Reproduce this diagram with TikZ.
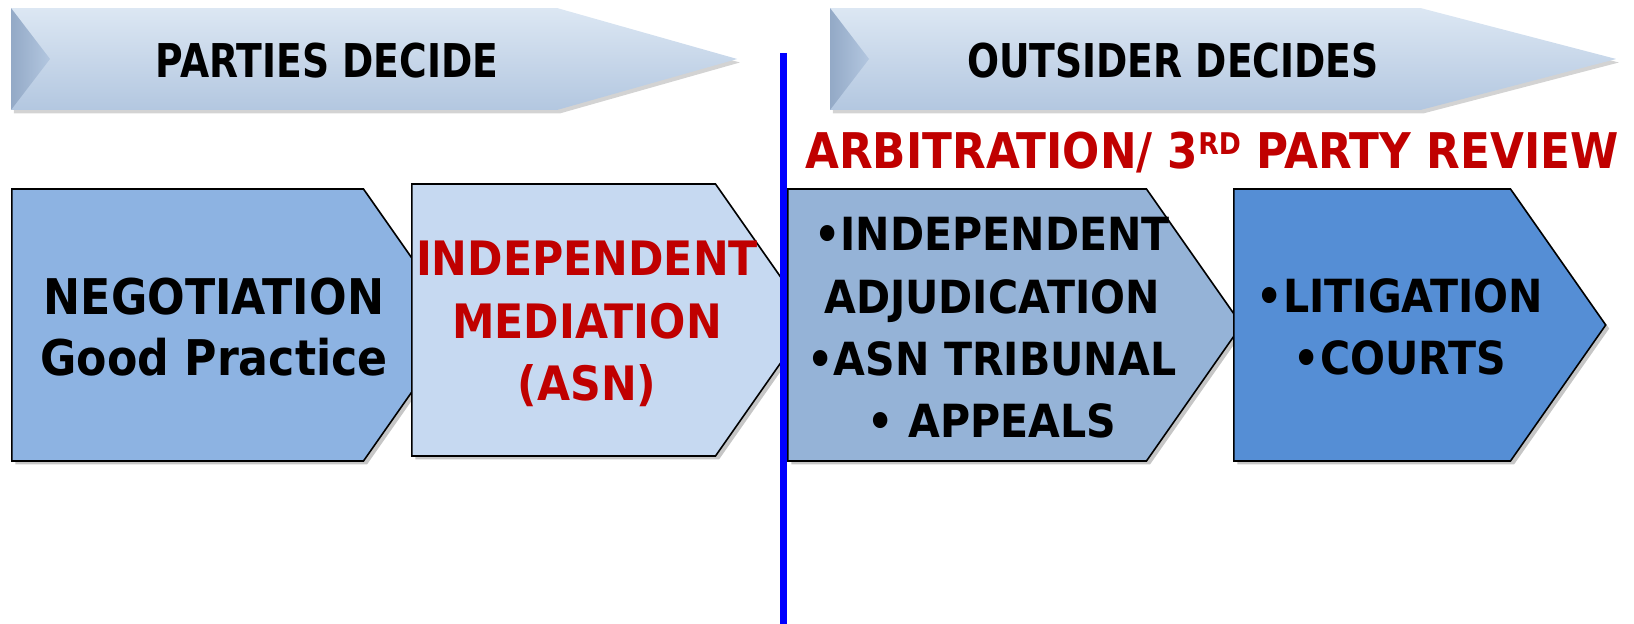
\documentclass[tikz,border=0pt]{standalone}
\usepackage{fontspec}
\setmainfont{DejaVu Sans}
\newfontfamily\stagefont{DejaVu Sans}[FakeStretch=0.9]
\newfontfamily\headfont{DejaVu Sans}[FakeStretch=0.81]
\newfontfamily\arbfont{DejaVu Sans}[FakeStretch=0.89]
\usepackage{tikz}
\usetikzlibrary{shapes.symbols, shadows, positioning}

\definecolor{negfill}{HTML}{8DB3E2}
\definecolor{medfill}{HTML}{C6D9F1}
\definecolor{adjfill}{HTML}{95B3D7}
\definecolor{litfill}{HTML}{558ED5}
\definecolor{darkred}{HTML}{C00000}
\definecolor{bannertop}{HTML}{DCE7F3}
\definecolor{bannerbottom}{HTML}{B3C7E0}
\definecolor{bevel}{HTML}{93A9C6}

\tikzset{
  stage/.style = {signal, signal to=east, signal pointer angle=110, draw=black, line width=0.9pt,
    minimum height=5.44cm, inner sep=0pt, anchor=west,
    drop shadow={shadow xshift=2pt, shadow yshift=-2pt, opacity=0.45}},
  banner/.style = {signal, signal to=east, minimum height=2.04cm, inner sep=0pt, anchor=west,
    top color=bannertop, bottom color=bannerbottom,
    drop shadow={shadow xshift=1.5pt, shadow yshift=-2pt, opacity=0.35}},
  stagetext/.style = {align=center, inner sep=0pt, font=\stagefont\fontsize{26}{35.5}\selectfont\bfseries},
  headtext/.style = {inner sep=0pt, font=\headfont\fontsize{26.5}{30}\selectfont\bfseries}
}

\begin{document}
\begin{tikzpicture}[x=0.02cm, y=-0.02cm]
  \useasboundingbox (0,0) rectangle (1634,624);

  % headings
  \node[banner, signal pointer angle=31.6, minimum width=14.52cm] (parties) at (11,59) {};
  \shade[left color=bevel, right color=bannerbottom] (11,8) -- (50,59) -- (11,110) -- cycle;
  \node[headtext] (partiestext) at (327,61) {PARTIES DECIDE};

  \node[banner, signal pointer angle=29.2, minimum width=15.72cm] (outsider) at (830,59) {};
  \shade[left color=bevel, right color=bannerbottom] (830,8) -- (869,59) -- (830,110) -- cycle;
  \node[headtext] (outsidertext) at (1173,61) {OUTSIDER DECIDES};

  \node[inner sep=0pt, text=darkred, font=\arbfont\fontsize{28}{30}\selectfont\bfseries] (arbitration) at (1212,153)
    {ARBITRATION/ 3\raisebox{8pt}{\fontsize{17}{17}\selectfont RD} PARTY REVIEW};

  % stages
  \node[stage, fill=negfill, minimum width=8.94cm] (neg) at (11,325) {};
  \node[stagetext, font=\stagefont\fontsize{28}{35}\selectfont\bfseries] (negtext) at (214,327) {NEGOTIATION\\Good Practice};

  \node[stage, fill=medfill, minimum width=7.98cm] (med) at (411,320) {};
  \node[stagetext, text=darkred, font=\stagefont\fontsize{27}{35.5}\selectfont\bfseries] (medtext) at (587,324) {INDEPENDENT\\MEDIATION\\(ASN)};

  \node[stage, fill=adjfill, minimum width=9.08cm] (adj) at (787,325) {};
  \node[stagetext] (adjtext) at (992,328) {•INDEPENDENT\\ADJUDICATION\\•ASN TRIBUNAL\\• APPEALS};

  \node[stage, fill=litfill, minimum width=7.44cm] (lit) at (1233,325) {};
  \node[stagetext] (littext) at (1400,327) {•LITIGATION\\•COURTS};

  % divider
  \coordinate (divtop) at (783.5,53);
  \coordinate (divbottom) at (783.5,624);
  \draw[blue, line width=0.14cm] (divtop) -- (divbottom);
\end{tikzpicture}
\end{document}
